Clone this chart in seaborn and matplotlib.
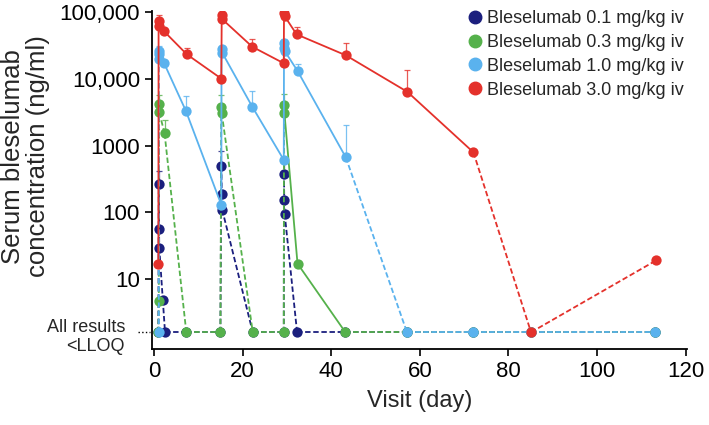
import numpy as np
import pandas as pd
import matplotlib
matplotlib.use("Agg")
import matplotlib.pyplot as plt
import matplotlib.transforms as mtransforms
from matplotlib.lines import Line2D
import seaborn as sns

nan = np.nan
LLOQ_Y = 1.6  # where "All results <LLOQ" is drawn

# 0.1 mg/kg
navy_day = [1.0, 1.1, 1.15, 1.2, 2.0, 2.5, 7.3, 15.0, 15.2, 15.3, 15.4, 22.3, 29.3,
            29.35, 29.4, 29.5, 32.3, 43.2, 57.1, 72.0, 85.1, 113.0]
navy_val = [nan, 262, 57, 29.7, 4.9, nan, nan, nan, 491, 190, 110, nan, nan,
            378, 151, 95.5, nan, nan, nan, nan, nan, nan]
navy_top = [nan, 424, nan, nan, nan, nan, nan, nan, 822, nan, nan, nan, nan,
            600, nan, nan, nan, nan, nan, nan, nan, nan]
navy_dash = [1] * 21

# 0.3 mg/kg
green_day = [1.0, 1.1, 1.15, 1.2, 2.4, 7.3, 15.0, 15.2, 15.3, 22.3, 29.3, 29.35, 29.45,
             32.4, 43.2, 57.1, 72.0, 85.1, 113.0]
green_val = [nan, 4.7, 4190, 3140, 1530, nan, nan, 3820, 3040, nan, nan, 4050, 3070,
             17.1, nan, nan, nan, nan, nan]
green_top = [nan, nan, 5800, nan, 2400, nan, nan, 5800, nan, nan, nan, 5900, nan,
             nan, nan, nan, nan, nan, nan]
green_dash = [1, 1, 1, 1, 1, 1, 1, 1, 1, 1, 1, 0, 0, 0, 1, 1, 1, 1]

# 1.0 mg/kg
blue_day = [1.1, 1.12, 1.18, 1.25, 2.3, 7.2, 15.2, 15.25, 15.4, 22.2, 29.3, 29.35, 29.4,
            29.5, 32.4, 43.3, 57.1, 72.0, 85.1, 113.0]
blue_val = [nan, 26200, 23300, 19700, 17150, 3330, 130, 27700, 24700, 3820, 612, 34800, 29300,
            26200, 13200, 668, nan, nan, nan, nan]
blue_top = [nan, 31000, nan, nan, nan, 5600, nan, 31000, nan, 6600, nan, 40000, nan,
            nan, 16800, 2050, nan, nan, nan, nan]
blue_dash = [1, 0, 0, 0, 0, 0, 0, 0, 0, 0, 0, 0, 0, 0, 0, 1, 1, 1, 1]

# 3.0 mg/kg
red_day = [1.0, 1.05, 1.12, 2.25, 7.4, 15.2, 15.3, 15.45, 22.2, 29.3, 29.35, 29.5, 32.2,
           43.3, 57.2, 72.1, 85.1, 113.4]
red_val = [17, 73000, 62000, 52000, 23400, 10100, 92000, 78000, 30300, 17150, 98000, 87000, 46500,
           22600, 6400, 794, nan, 19.2]
red_top = [nan, 90000, nan, nan, 29300, nan, 113000, nan, 39000, nan, 120000, nan, 59700,
           34000, 13500, nan, nan, nan]
red_dash = [0, 0, 0, 0, 0, 0, 0, 0, 0, 0, 0, 0, 0, 0, 0, 1, 1]

labels = ["Bleselumab 0.1 mg/kg iv", "Bleselumab 0.3 mg/kg iv",
          "Bleselumab 1.0 mg/kg iv", "Bleselumab 3.0 mg/kg iv"]
colors = ["#1B1F7E", "#55B14B", "#5AB2EE", "#E4312B"]

series = [(navy_day, navy_val, navy_top, navy_dash),
          (green_day, green_val, green_top, green_dash),
          (blue_day, blue_val, blue_top, blue_dash),
          (red_day, red_val, red_top, red_dash)]

sns.set_style("ticks")
plt.rcParams["font.family"] = ["Liberation Sans", "DejaVu Sans"]

fig = plt.figure(figsize=(7.09, 4.25), dpi=100)
ax = fig.add_axes([0.214, 0.179, 0.755, 0.795])

for i, (day, val, top, dash) in enumerate(series):
    c = colors[i]
    z = 3 + i
    df = pd.DataFrame({"day": day, "conc": val, "top": top})
    df["y"] = df["conc"].fillna(LLOQ_Y)
    # connecting segments
    for k in range(len(df) - 1):
        ax.plot(df["day"].iloc[k:k + 2], df["y"].iloc[k:k + 2], color=c, lw=1.3,
                ls=(0, (3, 1.5)) if dash[k] else "-", zorder=z)
    # upper error bars
    e = df.dropna(subset=["top"])
    ax.errorbar(e["day"], e["y"], yerr=[np.zeros(len(e)), e["top"] - e["y"]],
                fmt="none", ecolor=c, elinewidth=0.9, capsize=2.5, capthick=0.9,
                zorder=z, alpha=0.8)
    sns.scatterplot(data=df, x="day", y="y", color=c, s=55, edgecolor=c,
                    linewidth=0, ax=ax, zorder=z + 0.5, legend=False)

ax.set_yscale("log")
ax.set_ylim(0.9, 104000)
ax.set_xlim(-0.5, 120.3)
ax.set_yticks([10, 100, 1000, 10000, 100000])
ax.set_yticklabels(["10", "100", "1000", "10,000", "100,000"])
ax.yaxis.set_minor_locator(matplotlib.ticker.NullLocator())
ax.set_xticks(range(0, 121, 20))
ax.tick_params(axis="both", labelsize=16, length=5, width=1.2, colors="black")
for s in ["left", "bottom"]:
    ax.spines[s].set_linewidth(1.3)
    ax.spines[s].set_color("black")
sns.despine(ax=ax)

# LLOQ marker on the y axis
trans = mtransforms.blended_transform_factory(ax.transAxes, ax.transData)
ax.plot([-0.025, -0.003], [LLOQ_Y, LLOQ_Y], transform=trans, color="black",
        ls=":", lw=1, clip_on=False)
ax.text(-0.05, LLOQ_Y * 0.86, "All results\n<LLOQ", transform=trans, ha="right",
        va="center", fontsize=13, linespacing=1.15)

ax.set_xlabel("Visit (day)", fontsize=17, labelpad=6)
ax.set_ylabel("Serum bleselumab\nconcentration (ng/ml)", fontsize=18.5, linespacing=1.05)
ax.yaxis.set_label_coords(-0.19, 0.57)

handles = [Line2D([], [], ls="none", marker="o", markersize=9, color=c) for c in colors]
ax.legend(handles, labels, loc="upper right", bbox_to_anchor=(1.015, 1.035), frameon=False,
          fontsize=13, handletextpad=0.1, labelspacing=0.38, handlelength=1.2,
          borderaxespad=0.2)

fig.savefig("out.png", dpi=100)
